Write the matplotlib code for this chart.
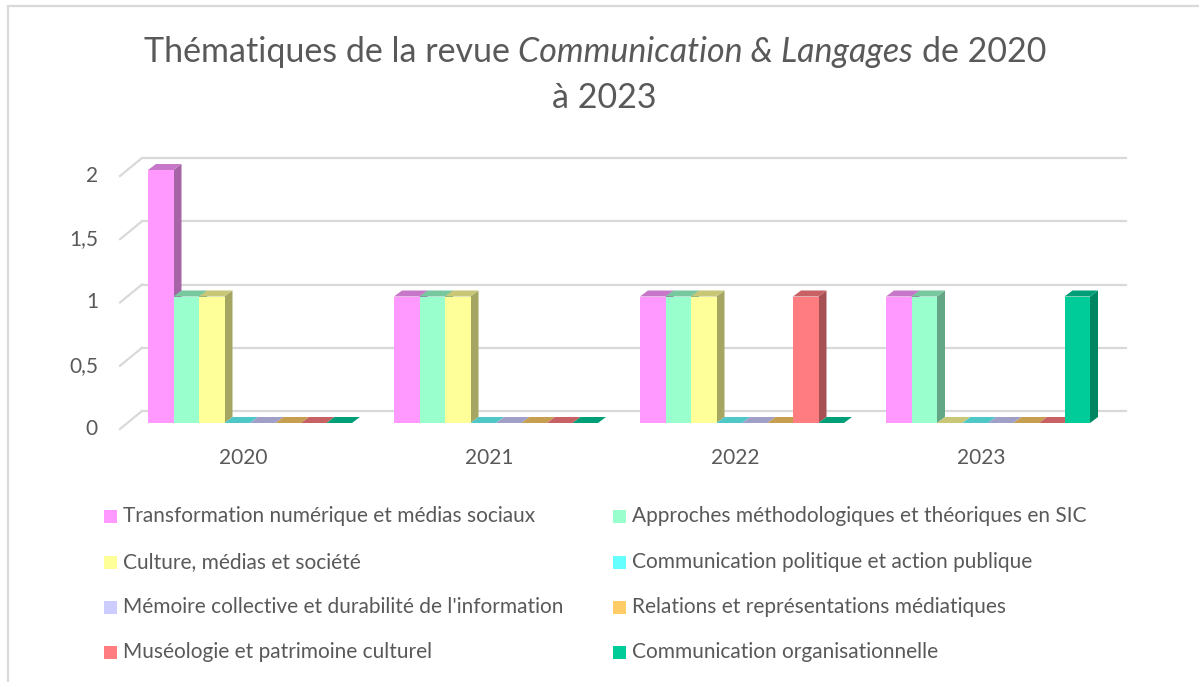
import matplotlib
matplotlib.use("Agg")
import matplotlib.pyplot as plt
from matplotlib.patches import Polygon, Rectangle

plt.rcParams['font.family'] = ['Lato', 'DejaVu Sans']

years = ["2020", "2021", "2022", "2023"]
themes = [
    "Transformation numérique et médias sociaux",
    "Approches méthodologiques et théoriques en SIC",
    "Culture, médias et société",
    "Communication politique et action publique",
    "Mémoire collective et durabilité de l'information",
    "Relations et représentations médiatiques",
    "Muséologie et patrimoine culturel",
    "Communication organisationnelle",
]
colors = ["#FF99FF", "#99FFCC", "#FFFF99", "#66FFFF",
          "#CCCCFF", "#FFCC66", "#FF7C80", "#00CC99"]

transformation = [2, 1, 1, 1]
approches = [1, 1, 1, 1]
culture = [1, 1, 1, 0]
politique = [0, 0, 0, 0]
memoire = [0, 0, 0, 0]
relations = [0, 0, 0, 0]
museologie = [0, 0, 1, 0]
organisationnelle = [0, 0, 0, 1]
series = [transformation, approches, culture, politique,
          memoire, relations, museologie, organisationnelle]

yticks = [0, 0.5, 1, 1.5, 2]
ytick_labels = ["0", "0,5", "1", "1,5", "2"]

TXT = "#595959"
GRID = "#D9D9D9"
W, H = 1199, 682


def shade(c, f):
    r, g, b = matplotlib.colors.to_rgb(c)
    return (r * f, g * f, b * f)


fig = plt.figure(figsize=(W / 100, H / 100), dpi=100)
ax = fig.add_axes([127 / W, (H - 423) / H, 984 / W, 253 / H])
ax.set_xlim(-0.5, 3.5)
ax.set_ylim(0, 2)
ax.set_axis_off()

# pixel -> data offsets
pos = ax.get_position()
px_x = pos.width * W / 4.0
px_y = pos.height * H / 2.0


def off(dx, dy):
    return dx / px_x, dy / px_y


front = off(-7, -6)
depth = off(8, 6)
wall = off(15, 12)
bw = 25.5 / px_x
x_lo, x_hi = ax.get_xlim()

# back wall gridlines + left diagonal ticks
for t, lab in zip(yticks, ytick_labels):
    ax.plot([x_lo + wall[0], x_hi + wall[0]], [t + wall[1]] * 2,
            color=GRID, lw=1.6, clip_on=False, zorder=1)
    ax.plot([x_lo + front[0], x_lo + wall[0]], [t + front[1], t + wall[1]],
            color=GRID, lw=1.6, clip_on=False, zorder=1)
    ax.text(x_lo + front[0] - off(22, 0)[0], t + front[1], lab,
            ha="right", va="center", fontsize=15, color=TXT)

for i, y in enumerate(years):
    ax.text(i + front[0], front[1] - off(0, 29)[1], y,
            ha="center", va="center", fontsize=15, color=TXT)

# 3d-looking columns
for j, (vals, c) in enumerate(zip(series, colors)):
    for i, v in enumerate(vals):
        x0 = i - 4 * bw + j * bw
        x1 = x0 + bw
        if v > 0:
            ax.add_patch(Polygon([(x1, 0), (x1 + depth[0], depth[1]),
                                  (x1 + depth[0], v + depth[1]), (x1, v)],
                                 closed=True, facecolor=shade(c, 0.65),
                                 lw=0, clip_on=False, zorder=2))
            ax.add_patch(Rectangle((x0, 0), bw, v, facecolor=c, lw=0,
                                   clip_on=False, zorder=2))
        ax.add_patch(Polygon([(x0, v), (x1, v), (x1 + depth[0], v + depth[1]),
                              (x0 + depth[0], v + depth[1])],
                             closed=True, facecolor=shade(c, 0.78),
                             lw=0, clip_on=False, zorder=2))

# title with italic part
renderer = fig.canvas.get_renderer()
parts = [("Thématiques de la revue", "normal"),
         ("Communication & Langages", "italic"),
         ("de 2020", "normal")]
fs_title = 24.5
sp = fig.text(0, 0, "a a", fontsize=fs_title)
sp2 = fig.text(0, 0, "aa", fontsize=fs_title)
space_w = sp.get_window_extent(renderer).width - sp2.get_window_extent(renderer).width
sp.remove()
sp2.remove()
objs = []
for s, style in parts:
    t = fig.text(0, 1 - 52 / H, s, fontsize=fs_title, style=style,
                 color=TXT, va="center", ha="left")
    objs.append(t)
widths = [o.get_window_extent(renderer).width for o in objs]
total = sum(widths) + space_w * 2
x = 595 - total / 2
for o, w in zip(objs, widths):
    o.set_x(x / W)
    x += w + space_w
fig.text(604 / W, 1 - 98 / H, "à 2023", fontsize=fs_title,
         color=TXT, ha="center", va="center")

# legend
rows_y = [516, 562, 607, 652]
cols_x = [104, 613]
for k, (name, c) in enumerate(zip(themes, colors)):
    r, col = divmod(k, 2)
    cx, cy = cols_x[col], rows_y[r]
    fig.add_artist(Rectangle((cx / W, 1 - (cy + 6.5) / H), 13 / W, 13 / H,
                             transform=fig.transFigure, facecolor=c, lw=0))
    fig.text((cx + 19) / W, 1 - cy / H, name, fontsize=15, color=TXT,
             ha="left", va="center")

# outer chart frame
fig.add_artist(Rectangle((8 / W, -0.1), 1.2, 1.1 - 6 / H,
                         transform=fig.transFigure, fill=False,
                         edgecolor=GRID, lw=1.6))

fig.savefig("out.png", dpi=100)
